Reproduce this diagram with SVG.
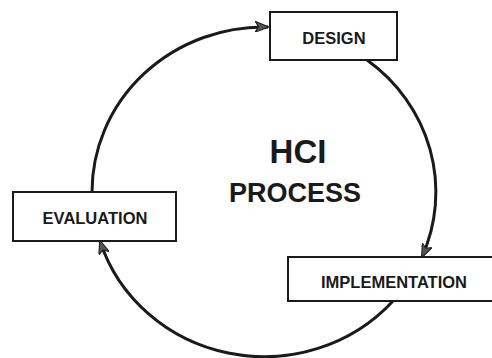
<svg xmlns="http://www.w3.org/2000/svg" width="492" height="358" viewBox="0 0 492 358">
  <style>
    .box { fill: #ffffff; stroke: #1a1a1a; stroke-width: 2; }
    .label { font-family: "Liberation Sans", Arial, sans-serif; font-weight: bold; fill: #1a1a1a; text-anchor: middle; }
    .cycle { fill: none; stroke: #1a1a1a; stroke-width: 3; }
  </style>
  <defs>
    <marker id="arrow" viewBox="0 0 14 11" refX="13" refY="5.5" markerWidth="14" markerHeight="11" markerUnits="userSpaceOnUse" orient="auto">
      <path d="M0,0 L14,5.5 L0,11 L3.5,5.5 Z" fill="#555555" stroke="#1a1a1a" stroke-width="1"/>
    </marker>
  </defs>

  <rect width="492" height="358" fill="#ffffff"/>

  <!-- cycle arcs (one ellipse split into three segments) -->
  <g id="connectors">
    <path class="cycle" d="M 92 192 A 172 165 0 0 1 268 27" marker-end="url(#arrow)"/>
    <path class="cycle" d="M 367 60 A 172 165 0 0 1 422 257" marker-end="url(#arrow)"/>
    <path class="cycle" d="M 393 301 A 172 165 0 0 1 100 241" marker-end="url(#arrow)"/>
  </g>

  <g id="design">
    <rect class="box" x="270" y="12" width="127" height="48"/>
    <text class="label" x="334" y="44" font-size="16.5">DESIGN</text>
  </g>

  <g id="implementation">
    <rect class="box" x="288" y="257" width="206" height="44"/>
    <text class="label" x="394" y="288" font-size="16.5">IMPLEMENTATION</text>
  </g>

  <g id="evaluation">
    <rect class="box" x="13" y="192" width="163" height="49"/>
    <text class="label" x="95" y="224" font-size="16.5">EVALUATION</text>
  </g>

  <g id="title">
    <text class="label" x="298" y="163" font-size="33">HCI</text>
    <text class="label" x="295" y="202" font-size="27">PROCESS</text>
  </g>
</svg>
